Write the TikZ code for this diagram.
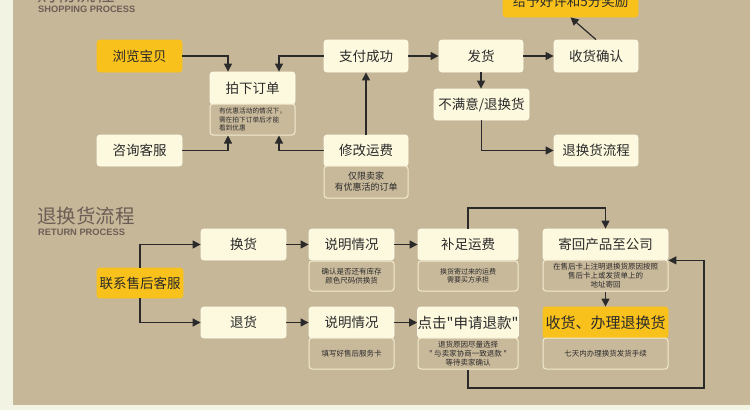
\documentclass[tikz,border=0pt]{standalone}
\usepackage{fontspec}
\setmainfont{Noto Sans CJK SC}[Ligatures=TeXOff]
\newfontfamily\latinsans{Liberation Sans}
\usetikzlibrary{arrows.meta,calc}
\definecolor{bgtan}{HTML}{C7B799}
\definecolor{pale}{HTML}{F3F3E4}
\definecolor{cream}{HTML}{FDF9DE}
\definecolor{creamedge}{HTML}{FFFCEB}
\definecolor{gold}{HTML}{F9C11B}
\definecolor{subfill}{HTML}{C9B99B}
\definecolor{subedge}{HTML}{F2EBCF}
\definecolor{titlec}{HTML}{6C5E56}
\definecolor{ink}{HTML}{2A2A2A}
\begin{document}
\begin{tikzpicture}[x=1pt,y=-1pt,
  mainbox/.style={rectangle, rounded corners=3pt, fill=cream, draw=creamedge, line width=0.8pt, inner sep=0pt, text=ink, font=\fontsize{13.5}{16}\selectfont},
  goldbox/.style={mainbox, fill=gold, draw=gold},
  subbox/.style={rectangle, rounded corners=3pt, fill=subfill, draw=subedge, line width=1pt, inner sep=0pt, align=center, text=ink, font=\fontsize{7.5}{8.8}\selectfont},
  arr/.style={draw=ink, line width=1.2pt, -{Triangle[length=8pt,width=8pt]}},
  titlecn/.style={anchor=west, inner sep=0pt, text=titlec, font=\fontsize{19.5}{20}\selectfont},
  titleen/.style={anchor=west, inner sep=0pt, text=titlec, font=\latinsans\bfseries\fontsize{9.3}{10}\selectfont}
]
\useasboundingbox (0,0) rectangle (750,410);
\fill[pale] (0,0) rectangle (750,410);
\fill[bgtan] (13,0) rectangle (750,405);

% titles
\node[titlecn] (t1) at (37,-6) {购物流程};
\node[titleen] (t1e) at (38,9) {SHOPPING PROCESS};
\node[titlecn] (t2) at (37,216) {退换货流程};
\node[titleen] (t2e) at (38,232.5) {RETURN PROCESS};

% shopping process
\node[goldbox, minimum width=85pt, minimum height=32pt] (browse) at (139.5,56) {浏览宝贝};
\node[mainbox, minimum width=85pt, minimum height=31pt] (consult) at (139.5,150.5) {咨询客服};
\node[mainbox, minimum width=85pt, minimum height=32pt] (order) at (252.5,88) {拍下订单};
\node[subbox, minimum width=85pt, minimum height=31pt, align=left, font=\fontsize{6.7}{8.6}\selectfont] (ordersub) at (252.5,119.5) {有优惠活动的情况下，\\需在拍下订单后才能\\看到优惠};
\node[mainbox, minimum width=84pt, minimum height=32pt] (pay) at (366,56) {支付成功};
\node[mainbox, minimum width=84pt, minimum height=31pt] (modify) at (366,150.5) {修改运费};
\node[subbox, minimum width=84pt, minimum height=32pt, font=\fontsize{9}{11}\selectfont] (modsub) at (366,182) {仅限卖家\\有优惠活的订单};
\node[mainbox, minimum width=84pt, minimum height=32pt] (ship) at (481,56) {发货};
\node[mainbox, minimum width=95pt, minimum height=31pt] (unsat) at (481.5,104.5) {不满意/退换货};
\node[mainbox, minimum width=84pt, minimum height=32pt] (confirm) at (596,56) {收货确认};
\node[mainbox, minimum width=84pt, minimum height=31pt] (retflow) at (596,150.5) {退换货流程};
\node[goldbox, minimum width=135pt, minimum height=32pt] (praise) at (570.5,1) {给予好评和5分奖励};

\draw[arr] (browse.east) -| ([xshift=-24.5pt]order.north);
\draw[arr] (consult.east) -| ([xshift=-24.5pt]ordersub.south);
\draw[arr] (pay.west) -| ([xshift=26.5pt]order.north);
\draw[arr] (modify.west) -| ([xshift=26.5pt]ordersub.south);
\draw[arr] (modify.north) -- (pay.south);
\draw[arr] (pay.east) -- (ship.west);
\draw[arr] (ship.east) -- (confirm.west);
\draw[arr] (ship.south) -- (ship.south |- unsat.north);
\draw[arr] (unsat.south) |- (retflow.west);
\draw[arr] (confirm.north) -- (praise.south);

% return process
\node[goldbox, minimum width=86pt, minimum height=30pt] (contact) at (140,283) {联系售后客服};
\node[mainbox, minimum width=85pt, minimum height=31pt] (exch) at (243.5,244.5) {换货};
\node[mainbox, minimum width=85pt, minimum height=31pt] (refund) at (243.5,322.5) {退货};
\node[mainbox, minimum width=85pt, minimum height=31pt] (expla) at (351.5,244.5) {说明情况};
\node[subbox, minimum width=85pt, minimum height=30pt] (explasub) at (351.5,276) {确认是否还有库存\\颜色尺码供换货};
\node[mainbox, minimum width=85pt, minimum height=31pt] (explb) at (351.5,322.5) {说明情况};
\node[subbox, minimum width=85pt, minimum height=31pt] (explbsub) at (351.5,353.5) {填写好售后服务卡};
\node[mainbox, minimum width=100pt, minimum height=31pt] (freight) at (468,244.5) {补足运费};
\node[subbox, minimum width=100pt, minimum height=30pt, font=\fontsize{7}{8.6}\selectfont] (freightsub) at (468,276) {换货寄过来的运费\\需要买方承担};
\node[mainbox, minimum width=100pt, minimum height=31pt, font=\fontsize{14.5}{17}\selectfont] (apply) at (468,322.5) {点击"申请退款"};
\node[subbox, minimum width=100pt, minimum height=31pt] (applysub) at (468,353.5) {退货原因尽量选择\\" 与卖家协商一致退款 "\\等待卖家确认};
\node[mainbox, minimum width=125pt, minimum height=31pt] (sendback) at (605.5,244.5) {寄回产品至公司};
\node[subbox, minimum width=125pt, minimum height=31pt] (sendsub) at (605.5,275.5) {在售后卡上注明退换货原因按照\\售后卡上或发货单上的\\地址寄回};
\node[goldbox, minimum width=125pt, minimum height=31pt, font=\fontsize{15}{18}\selectfont] (recv) at (605.5,322.5) {收货、办理退换货};
\node[subbox, minimum width=125pt, minimum height=31pt] (recvsub) at (605.5,353.5) {七天内办理换货发货手续};

\coordinate (topturn) at (468,208);
\coordinate (botturn) at (704,388);

\draw[arr] (contact.north) |- (exch.west);
\draw[arr] (contact.south) |- (refund.west);
\draw[arr] (exch.east) -- (expla.west);
\draw[arr] (expla.east) -- (freight.west);
\draw[arr] (refund.east) -- (explb.west);
\draw[arr] (explb.east) -- (apply.west);
\draw[arr] (freight.north) -- (topturn) -| (sendback.north);
\draw[arr] (sendsub.south) -- (recv.north);
\draw[arr] (applysub.south) |- (botturn) |- (sendback.south east);
\end{tikzpicture}
\end{document}
